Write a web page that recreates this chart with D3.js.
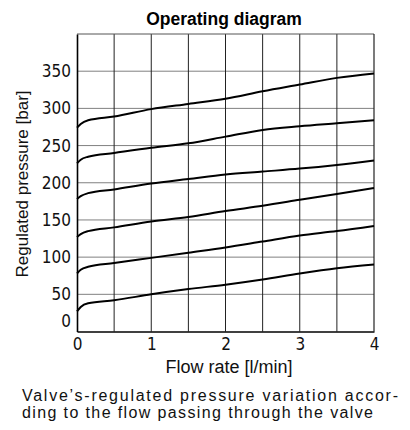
<!DOCTYPE html>
<html><head><meta charset="utf-8">
<script src="https://cdn.jsdelivr.net/npm/d3@7"></script>
<style>
body{margin:0;background:#fff;}
svg{display:block;}
</style></head>
<body>
<svg id="c" width="410" height="430"></svg>
<script>
const flow = [0, 0.05, 0.15, 0.5, 1, 1.5, 2, 2.5, 3, 3.5, 4];
const curve1 = [27, 33, 38, 42, 50, 57, 63, 70, 78, 85, 90];
const curve2 = [78, 83, 87, 92, 99, 106, 113, 121, 129, 135, 142];
const curve3 = [127, 131, 135, 140, 148, 154, 162, 169, 177, 185, 193];
const curve4 = [178, 182, 186, 191, 199, 205, 211, 215, 219, 224, 230];
const curve5 = [226, 231, 235, 240, 247, 253, 262, 271, 276, 280, 284];
const curve6 = [274, 279, 284, 289, 299, 306, 313, 323, 332, 341, 347];
const seriesList = [curve1, curve2, curve3, curve4, curve5, curve6];
const xTicks = [0, 1, 2, 3, 4];
const xGrid = [0.5, 1, 1.5, 2, 2.5, 3, 3.5];
const yTicks = [0, 50, 100, 150, 200, 250, 300, 350];
const titleText = "Operating diagram";
const yLabel = "Regulated pressure [bar]";
const xLabel = "Flow rate [l/min]";
const caption = ["Valve’s-regulated pressure variation accor-", "ding to the flow passing through the valve"];

const svg = d3.select("#c");
const L = 77, R = 374, T = 34, B = 331.5;
const x = d3.scaleLinear().domain([0, 4]).range([L, R]);
const y = d3.scaleLinear().domain([0, 400]).range([B, T]);
const tickFont = "'DejaVu Sans',sans-serif";
const textFont = "'Liberation Sans',Arial,sans-serif";

// horizontal grid
svg.append("g").selectAll("line").data(yTicks.filter(d => d > 0)).join("line")
  .attr("x1", L).attr("x2", R).attr("y1", d => y(d)).attr("y2", d => y(d))
  .attr("stroke", "#808080").attr("stroke-width", 1);
// vertical grid
svg.append("g").selectAll("line").data(xGrid).join("line")
  .attr("x1", d => x(d)).attr("x2", d => x(d)).attr("y1", T).attr("y2", B)
  .attr("stroke", "#222").attr("stroke-width", 1);
// frame
svg.append("line").attr("x1", L).attr("x2", R).attr("y1", T).attr("y2", T).attr("stroke", "#555").attr("stroke-width", 1);
svg.append("line").attr("x1", R).attr("x2", R).attr("y1", T).attr("y2", B).attr("stroke", "#222").attr("stroke-width", 1.2);

// axes
const xAxis = svg.append("g").attr("transform", `translate(0,${B})`)
  .call(d3.axisBottom(x).tickValues(xTicks).tickSize(0).tickPadding(6).tickFormat(d3.format("d")));
xAxis.select(".domain").attr("stroke", "#000").attr("stroke-width", 1.6);
xAxis.selectAll("text").attr("font-family", tickFont).attr("font-size", 17).attr("font-stretch", "condensed").attr("fill", "#111");

const yAxis = svg.append("g").attr("transform", `translate(${L},0)`)
  .call(d3.axisLeft(y).tickValues(yTicks).tickSize(0).tickPadding(6).tickFormat(d3.format("d")));
yAxis.select(".domain").attr("stroke", "#000").attr("stroke-width", 1.6);
yAxis.selectAll("text").attr("font-family", tickFont).attr("font-size", 17).attr("font-stretch", "condensed").attr("fill", "#111");
yAxis.selectAll(".tick").filter(d => d === 0).select("text").attr("dy", "-0.3em");

// curves
const line = d3.line().x((d, i) => x(flow[i])).y(d => y(d)).curve(d3.curveMonotoneX);
svg.append("g").selectAll("path").data(seriesList).join("path")
  .attr("d", line).attr("fill", "none").attr("stroke", "#000").attr("stroke-width", 2);

// texts
svg.append("text").attr("x", 224).attr("y", 25).attr("text-anchor", "middle")
  .attr("font-family", textFont).attr("font-weight", "bold").attr("font-size", 17.5).text(titleText);
svg.append("text").attr("transform", `translate(28,184) rotate(-90)`).attr("text-anchor", "middle")
  .attr("font-family", textFont).attr("font-size", 17).attr("fill", "#111").text(yLabel);
svg.append("text").attr("x", 229).attr("y", 373).attr("text-anchor", "middle")
  .attr("font-family", textFont).attr("font-size", 18).attr("fill", "#111").text(xLabel);
svg.append("text").attr("x", 22).attr("y", 401).attr("textLength", 376).attr("lengthAdjust", "spacing")
  .attr("font-family", textFont).attr("font-size", 16).attr("fill", "#111").text(caption[0]);
svg.append("text").attr("x", 22).attr("y", 418).attr("textLength", 351).attr("lengthAdjust", "spacing")
  .attr("font-family", textFont).attr("font-size", 16).attr("fill", "#111").text(caption[1]);
</script>
</body></html>
